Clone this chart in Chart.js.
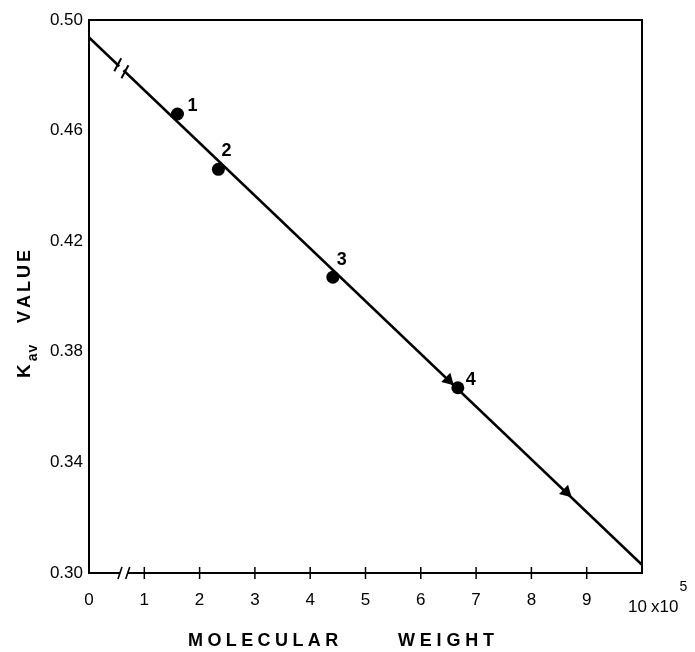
<!DOCTYPE html>
<html><head><meta charset="utf-8">
<script src="https://cdn.jsdelivr.net/npm/chart.js@4/dist/chart.umd.min.js"></script>
<style>html,body{margin:0;padding:0;background:#fff;}canvas{display:block;}</style>
</head><body>
<canvas id="c" width="695" height="652"></canvas>
<script>
// ---- data (molecular weight in units of 10^5) ----
const xTicks = [0,1,2,3,4,5,6,7,8,9,10];
const yTicks = [0.30,0.34,0.38,0.42,0.46,0.50];
const proteinMW = [1.60, 2.34, 4.41, 6.67];
const proteinKav = [0.466, 0.446, 0.407, 0.367];
const proteinLabels = ['1','2','3','4'];
const fitMW = [0, 10];
const fitKav = [0.4937, 0.303];
const arrowMW = [6.50, 8.63];
const arrowKav = [0.3698, 0.3293];
const lineBreakMW = [0.52, 0.65];
const axisBreakMW = [0.56, 0.70];
const xTitleWords = ['MOLECULAR','WEIGHT'];
const yTitleMain = 'K', yTitleSub = 'av', yTitleRest = 'VALUE';

// ---- styles ----
const FONT = "'Liberation Sans', Arial, Helvetica, sans-serif";
const INK = '#000';
const labelOffsets = [[15,-8],[8,-18],[9,-17],[13,-8]];

function spacedText(ctx, text, x, y, spacing){
  let cx = x;
  for (const ch of text){ ctx.fillText(ch, cx, y); cx += ctx.measureText(ch).width + spacing; }
  return cx - spacing;
}

const decor = {
  id:'decor',
  afterDraw(chart){
    const ctx = chart.ctx, a = chart.chartArea;
    const xs = chart.scales.x;
    ctx.save();
    ctx.strokeStyle = INK; ctx.fillStyle = INK; ctx.lineCap = 'butt';
    // line break on fitted line
    const fm = chart.getDatasetMeta(2).data;
    const p0 = fm[0], p1 = fm[1];
    const lineY = px => p0.y + (p1.y - p0.y) * (px - p0.x) / (p1.x - p0.x);
    const b0 = xs.getPixelForValue(lineBreakMW[0]), b1 = xs.getPixelForValue(lineBreakMW[1]);
    ctx.strokeStyle = '#fff'; ctx.lineWidth = 6;
    ctx.beginPath(); ctx.moveTo(b0+1.5, lineY(b0+1.5)); ctx.lineTo(b1-1.5, lineY(b1-1.5)); ctx.stroke();
    ctx.strokeStyle = INK; ctx.lineWidth = 2;
    for (const b of [b0,b1]){
      const yy = lineY(b);
      ctx.beginPath(); ctx.moveTo(b-3.5, yy+6.5); ctx.lineTo(b+3.5, yy-6.5); ctx.stroke();
    }
    // frame
    ctx.lineWidth = 2;
    ctx.beginPath();
    ctx.moveTo(a.left, a.bottom); ctx.lineTo(a.left, a.top); ctx.lineTo(a.right, a.top); ctx.lineTo(a.right, a.bottom);
    ctx.stroke();
    const ab0 = xs.getPixelForValue(axisBreakMW[0]), ab1 = xs.getPixelForValue(axisBreakMW[1]);
    ctx.beginPath();
    ctx.moveTo(a.left-1, a.bottom); ctx.lineTo(ab0, a.bottom);
    ctx.moveTo(ab1, a.bottom); ctx.lineTo(a.right+1, a.bottom);
    ctx.stroke();
    ctx.lineWidth = 1.6;
    for (const b of [ab0, ab1]){
      ctx.beginPath(); ctx.moveTo(b-2, a.bottom+6); ctx.lineTo(b+2, a.bottom-6); ctx.stroke();
    }
    // x tick marks
    ctx.lineWidth = 1.5;
    for (const v of xTicks){
      if (v === xTicks[0] || v === xTicks[xTicks.length-1]) continue;
      const px = xs.getPixelForValue(v);
      ctx.beginPath(); ctx.moveTo(px, a.bottom-6); ctx.lineTo(px, a.bottom+6); ctx.stroke();
    }
    // point labels
    const pm = chart.getDatasetMeta(0).data;
    ctx.font = 'bold 18px ' + FONT; ctx.textAlign = 'center'; ctx.textBaseline = 'middle';
    pm.forEach((pt,i)=>{ ctx.fillText(proteinLabels[i], pt.x + labelOffsets[i][0], pt.y + labelOffsets[i][1]); });
    // last x label "10 x10^5"
    const lastX = xs.getPixelForValue(xTicks[xTicks.length-1]);
    ctx.textAlign = 'left'; ctx.textBaseline = 'alphabetic';
    ctx.font = '17px ' + FONT;
    const lastTxt = String(xTicks[xTicks.length-1]);
    ctx.fillText(lastTxt, lastX - 14, 612);
    let cx = lastX + 9;
    ctx.fillText('x10', cx, 612);
    cx += ctx.measureText('x10').width + 1;
    ctx.font = '14px ' + FONT;
    ctx.fillText('5', cx, 591);
    // x title
    ctx.font = 'bold 18px ' + FONT; ctx.textBaseline = 'middle';
    spacedText(ctx, xTitleWords[0], 188, 641, 4.4);
    spacedText(ctx, xTitleWords[1], 398, 641, 4.8);
    // y title
    ctx.save();
    ctx.translate(22, 380); ctx.rotate(-Math.PI/2);
    ctx.textBaseline = 'alphabetic';
    ctx.font = 'bold 19px ' + FONT;
    let lx = spacedText(ctx, yTitleMain, 2, 7.5, 0);
    ctx.font = 'bold 14px ' + FONT;
    lx = spacedText(ctx, yTitleSub, lx + 3, 15, 1);
    ctx.font = 'bold 18px ' + FONT;
    spacedText(ctx, yTitleRest, 57, 7.5, 3);
    ctx.restore();
    ctx.restore();
  }
};

new Chart(document.getElementById('c'), {
  type: 'scatter',
  data: {
    datasets: [
      { label:'proteins', data: proteinMW.map((x,i)=>({x, y: proteinKav[i]})),
        pointRadius: 6.5, pointBackgroundColor: INK, pointBorderColor: INK, pointBorderWidth: 0, showLine:false },
      { label:'markers', data: arrowMW.map((x,i)=>({x, y: arrowKav[i]})),
        pointStyle:'triangle', rotation: 134, pointRadius: 7.5, pointBackgroundColor: INK, pointBorderColor: INK, pointBorderWidth: 0, showLine:false },
      { label:'fit', data: fitMW.map((x,i)=>({x, y: fitKav[i]})),
        showLine:true, borderColor: INK, borderWidth: 2.6, pointRadius: 0, fill:false, tension:0 }
    ]
  },
  options: {
    responsive:false, animation:false, devicePixelRatio:1,
    layout:{ padding:{ left:0, top:20, right:53, bottom:0 } },
    plugins:{ legend:{display:false}, tooltip:{enabled:false}, title:{display:false} },
    scales:{
      x:{ type:'linear', min:xTicks[0], max:xTicks[xTicks.length-1],
        afterBuildTicks: s => { s.ticks = xTicks.map(v=>({value:v})); },
        afterFit: s => { s.height = 79; },
        grid:{ display:false, drawTicks:false }, border:{ display:false },
        ticks:{ padding:17, color:INK, font:{ family:FONT, size:17 }, maxRotation:0, autoSkip:false,
          callback: v => v === xTicks[xTicks.length-1] ? '' : String(v) } },
      y:{ type:'linear', min:yTicks[0], max:yTicks[yTicks.length-1],
        afterBuildTicks: s => { s.ticks = yTicks.map(v=>({value:v})); },
        afterFit: s => { s.width = 89; },
        grid:{ display:false, drawTicks:false }, border:{ display:false },
        ticks:{ padding:6, color:INK, font:{ family:FONT, size:17 }, autoSkip:false,
          callback: v => Number(v).toFixed(2) } }
    }
  },
  plugins:[decor]
});
</script>
</body></html>
